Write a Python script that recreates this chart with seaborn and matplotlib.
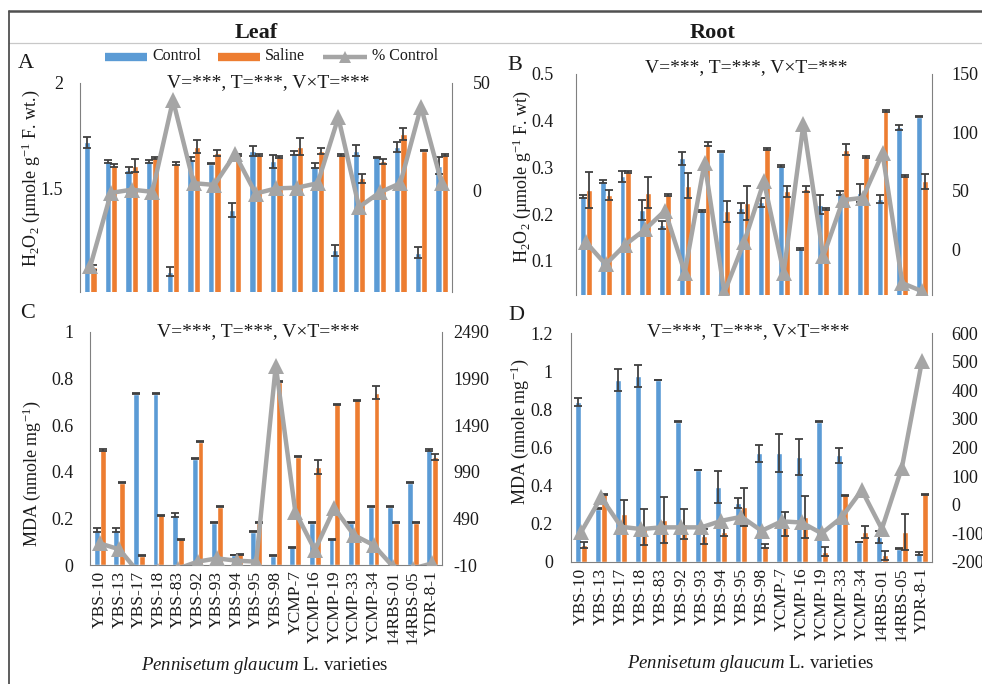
import numpy as np
import pandas as pd
import matplotlib
matplotlib.use("Agg")
import matplotlib.pyplot as plt
import seaborn as sns
from matplotlib.lines import Line2D
from matplotlib.ticker import FuncFormatter

# ---------------------------------------------------------------- data
varieties = ["YBS-10", "YBS-13", "YBS-17", "YBS-18", "YBS-83", "YBS-92", "YBS-93",
             "YBS-94", "YBS-95", "YBS-98", "YCMP-7", "YCMP-16", "YCMP-19", "YCMP-33",
             "YCMP-34", "14RBS-01", "14RBS-05", "YDR-8-1"]
treatments = ["Control", "Saline"]

# Leaf H2O2 (umole g-1 F. wt.)
leaf_h2o2_control = [1.72, 1.63, 1.59, 1.63, 1.11, 1.64, 1.62, 1.40, 1.68, 1.63,
                     1.67, 1.61, 1.21, 1.68, 1.65, 1.70, 1.20, 1.61]
leaf_h2o2_saline = [1.13, 1.61, 1.61, 1.645, 1.62, 1.70, 1.67, 1.66, 1.66, 1.65,
                    1.70, 1.68, 1.66, 1.55, 1.63, 1.76, 1.68, 1.66]
leaf_h2o2_control_err = [0.027, 0.006, 0.016, 0.006, 0.021, 0.010, 0.004, 0.034, 0.025,
                         0.030, 0.010, 0.013, 0.024, 0.026, 0.003, 0.024, 0.024, 0.040]
leaf_h2o2_saline_err = [0.010, 0.008, 0.030, 0.005, 0.005, 0.030, 0.015, 0.005, 0.005,
                        0.005, 0.040, 0.015, 0.003, 0.020, 0.012, 0.028, 0.003, 0.005]
leaf_h2o2_pct = [-35, -1, 0.5, -0.5, 42, 3.5, 2.7, 17, -1.3, 1.1,
                 1.4, 3.5, 34, -7.6, -0.8, 3.5, 39, 3.5]

# Root H2O2 (umole g-1 F. wt)
root_h2o2_control = [0.238, 0.270, 0.281, 0.209, 0.177, 0.320, 0.206, 0.334, 0.213,
                     0.225, 0.304, 0.126, 0.220, 0.245, 0.245, 0.232, 0.386, 0.409]
root_h2o2_saline = [0.252, 0.241, 0.290, 0.246, 0.241, 0.261, 0.350, 0.206, 0.224,
                    0.340, 0.249, 0.254, 0.211, 0.338, 0.322, 0.420, 0.282, 0.270]
root_h2o2_control_err = [0.003, 0.004, 0.012, 0.021, 0.009, 0.014, 0.002, 0.002, 0.011,
                         0.009, 0.002, 0.002, 0.020, 0.005, 0.020, 0.008, 0.005, 0.002]
root_h2o2_saline_err = [0.039, 0.010, 0.002, 0.033, 0.002, 0.027, 0.005, 0.023, 0.036,
                        0.002, 0.012, 0.007, 0.002, 0.012, 0.002, 0.002, 0.002, 0.017]
root_h2o2_pct = [6, -13, 4, 17, 33, -20, 74, -37, 6, 58,
                 -20, 107, -6, 42, 44, 82, -29, -36]

# Leaf MDA (nmole mg-1)
leaf_mda_control = [0.150, 0.150, 0.736, 0.736, 0.214, 0.457, 0.181, 0.043, 0.143,
                    0.039, 0.076, 0.181, 0.110, 0.181, 0.250, 0.250, 0.353, 0.493]
leaf_mda_saline = [0.493, 0.353, 0.039, 0.214, 0.110, 0.529, 0.250, 0.047, 0.181,
                   0.786, 0.464, 0.420, 0.690, 0.707, 0.739, 0.181, 0.181, 0.464]
leaf_mda_control_err = [0.009, 0.009, 0.002, 0.002, 0.010, 0.003, 0.002, 0.002, 0.002,
                        0.002, 0.002, 0.002, 0.002, 0.002, 0.002, 0.002, 0.002, 0.004]
leaf_mda_saline_err = [0.003, 0.002, 0.002, 0.002, 0.002, 0.003, 0.002, 0.002, 0.002,
                       0.002, 0.002, 0.030, 0.002, 0.002, 0.028, 0.002, 0.002, 0.012]
leaf_mda_pct = [222, 158, -95, -71, -49, 26, 61, 36, 26, 2130,
                560, 150, 600, 310, 204, -28, -49, 8]

# Root MDA (nmole mg-1)
root_mda_control = [0.840, 0.280, 0.954, 0.975, 0.954, 0.736, 0.482, 0.394, 0.310,
                    0.569, 0.569, 0.552, 0.736, 0.560, 0.105, 0.131, 0.070, 0.047]
root_mda_saline = [0.088, 0.354, 0.254, 0.184, 0.219, 0.200, 0.135, 0.158, 0.289,
                   0.082, 0.198, 0.236, 0.053, 0.350, 0.158, 0.035, 0.158, 0.354]
root_mda_control_err = [0.020, 0.002, 0.056, 0.058, 0.002, 0.002, 0.002, 0.083, 0.026,
                        0.044, 0.100, 0.094, 0.002, 0.040, 0.002, 0.030, 0.002, 0.008]
root_mda_saline_err = [0.015, 0.002, 0.072, 0.096, 0.120, 0.080, 0.040, 0.020, 0.100,
                       0.011, 0.064, 0.110, 0.024, 0.002, 0.032, 0.024, 0.096, 0.002]
root_mda_pct = [-96, 26, -77, -85, -79, -79, -79, -56, -42, -91,
                -58, -62, -100, -44, 51, -85, 130, 502]

legend_labels = ["Control", "Saline", "% Control"]

# ---------------------------------------------------------------- style
sns.set_style("white")
plt.rcParams["font.family"] = ["Liberation Serif", "DejaVu Serif"]
plt.rcParams["mathtext.fontset"] = "custom"
plt.rcParams["mathtext.rm"] = "Liberation Serif"
plt.rcParams["mathtext.it"] = "Liberation Serif:italic"
plt.rcParams["mathtext.default"] = "regular"
plt.rcParams["axes.unicode_minus"] = False

BLUE = "#5B9BD5"
ORANGE = "#ED7D31"
GREY = "#A5A5A5"
ERR = "#404040"
SPINE = "#808080"
TXT = "#1a1a1a"

W, H = 982, 684
fig = plt.figure(figsize=(W / 100, H / 100), dpi=100)


def fbox(x0, y0, x1, y1):
    """Pixel box (left, top, right, bottom) -> figure fraction rect."""
    return [x0 / W, 1 - y1 / H, (x1 - x0) / W, (y1 - y0) / H]


def fx(x):
    return x / W


def fy(y):
    return 1 - y / H


fmt = FuncFormatter(lambda v, p: f"{v:g}")


def draw_panel(rect, control, saline, control_err, saline_err, pct,
               left_lim, left_ticks, right_lim, right_ticks,
               show_x, left_pad, right_pad):
    ax = fig.add_axes(rect)
    df = pd.DataFrame({
        "variety": varieties * 2,
        "treatment": ["Control"] * len(varieties) + ["Saline"] * len(varieties),
        "value": list(control) + list(saline),
    })
    sns.barplot(data=df, x="variety", y="value", hue="treatment", order=varieties,
                hue_order=treatments, palette=[BLUE, ORANGE], width=0.6,
                errorbar=None, saturation=1, legend=False, ax=ax, zorder=2)
    xs = np.arange(len(varieties))
    for off, vals, err in ((-0.15, control, control_err), (0.15, saline, saline_err)):
        ax.errorbar(xs + off, vals, yerr=err, fmt="none", ecolor=ERR,
                    elinewidth=1.3, capsize=3.2, capthick=1.3, zorder=3)
    ax.set_xlim(-0.5, len(varieties) - 0.5)
    ax.set_yticks(left_ticks)
    ax.set_ylim(*left_lim)
    ax.yaxis.set_major_formatter(fmt)
    ax.set_xlabel("")
    ax.set_ylabel("")
    ax.tick_params(axis="y", length=0, pad=left_pad, labelsize=13, labelcolor=TXT)
    ax.tick_params(axis="x", length=0, pad=4, labelsize=12.5, labelrotation=90,
                   labelcolor=TXT, labelbottom=show_x)
    for side in ("top", "right"):
        ax.spines[side].set_visible(False)
    ax.spines["left"].set_color(SPINE)
    ax.spines["bottom"].set_color(SPINE)
    ax.spines["bottom"].set_visible(show_x)

    ax2 = ax.twinx()
    sns.lineplot(x=xs, y=pct, ax=ax2, color=GREY, linewidth=3.2, marker="^",
                 markersize=11, markeredgecolor=GREY, markeredgewidth=0, zorder=4)
    ax2.set_xlim(-0.5, len(varieties) - 0.5)
    ax2.set_yticks(right_ticks)
    ax2.set_ylim(*right_lim)
    ax2.yaxis.set_major_formatter(fmt)
    ax2.set_ylabel("")
    ax2.set_xlabel("")
    ax2.tick_params(axis="y", length=0, pad=right_pad, labelsize=13, labelcolor=TXT)
    for side in ("top", "left", "bottom"):
        ax2.spines[side].set_visible(False)
    ax2.spines["right"].set_color(SPINE)
    return ax, ax2


# A: leaf H2O2
draw_panel(fbox(80, 83, 452, 292), leaf_h2o2_control, leaf_h2o2_saline,
           leaf_h2o2_control_err, leaf_h2o2_saline_err, leaf_h2o2_pct,
           (1.014, 2.0), [1.5, 2.0], (-47, 50), [0, 50],
           False, 12, 15)
# B: root H2O2
draw_panel(fbox(576, 74, 932, 295), root_h2o2_control, root_h2o2_saline,
           root_h2o2_control_err, root_h2o2_saline_err, root_h2o2_pct,
           (0.027, 0.5), [0.1, 0.2, 0.3, 0.4, 0.5], (-39.2, 150), [0, 50, 100, 150],
           False, 16, 14)
# C: leaf MDA
draw_panel(fbox(90, 332, 442, 565), leaf_mda_control, leaf_mda_saline,
           leaf_mda_control_err, leaf_mda_saline_err, leaf_mda_pct,
           (0, 1.0), [0, 0.2, 0.4, 0.6, 0.8, 1.0], (-10, 2490),
           [-10, 490, 990, 1490, 1990, 2490], True, 12, 8)
# D: root MDA
draw_panel(fbox(571, 333, 932, 562), root_mda_control, root_mda_saline,
           root_mda_control_err, root_mda_saline_err, root_mda_pct,
           (0, 1.2), [0, 0.2, 0.4, 0.6, 0.8, 1.0, 1.2], (-200, 600),
           list(range(-200, 601, 100)), True, 13, 14)


def ftext(x, y, s, **kw):
    fig.text(fx(x), fy(y), s, **kw)


# panel headings and frame lines
ftext(256, 33, "Leaf", ha="center", va="center", fontsize=16, fontweight="bold", color=TXT)
ftext(713, 33, "Root", ha="center", va="center", fontsize=16, fontweight="bold", color=TXT)
fig.add_artist(Line2D([fx(8.5), 1], [fy(11)] * 2, transform=fig.transFigure,
                      color="#505050", lw=1.8))
fig.add_artist(Line2D([fx(8.5), 1], [fy(43)] * 2, transform=fig.transFigure,
                      color="#c8c8c8", lw=0.9))
fig.add_artist(Line2D([fx(8.5)] * 2, [0, fy(11)], transform=fig.transFigure,
                      color="#505050", lw=1.3))

# panel letters
for letter, (x, y) in zip("ABCD", [(26, 63), (515, 66), (28, 314), (516, 316)]):
    ftext(x, y, letter, ha="center", va="center", fontsize=16, color=TXT)

# ANOVA significance notes
stat = "V=***, T=***, V×T=***"
for x, y in [(268, 83), (746, 68), (258, 332), (748, 332)]:
    ftext(x, y, stat, ha="center", va="center", fontsize=14, color=TXT)

# y-axis titles
h2o2_a = r"H$_2$O$_2$ (µmole g$^{-1}$ F. wt.)"
h2o2_b = r"H$_2$O$_2$ (µmole g$^{-1}$ F. wt)"
mda = r"MDA (nmole mg$^{-1}$)"
ftext(31, 178, h2o2_a, rotation=90, ha="center", va="center", fontsize=13, color=TXT)
ftext(522, 177, h2o2_b, rotation=90, ha="center", va="center", fontsize=13, color=TXT)
ftext(32, 474, mda, rotation=90, ha="center", va="center", fontsize=13, color=TXT)
ftext(520, 432, mda, rotation=90, ha="center", va="center", fontsize=13, color=TXT)

# x-axis titles
xlab = r"$\it{Pennisetum\ glaucum}$ L. varieties"
ftext(265, 665, xlab, ha="center", va="center", fontsize=13.5, color=TXT)
ftext(751, 663, xlab, ha="center", va="center", fontsize=13.5, color=TXT)

# legend (series keys laid out along the top of panel A)
legend_y = 57
keys = [
    dict(x0=105, x1=147, color=BLUE, lw=6, marker=None),
    dict(x0=218, x1=260, color=ORANGE, lw=6, marker=None),
    dict(x0=323, x1=367, color=GREY, lw=3.2, marker="^"),
]
for key, label in zip(keys, legend_labels):
    fig.add_artist(Line2D([fx(key["x0"]), fx(key["x1"])], [fy(legend_y)] * 2,
                          transform=fig.transFigure, color=key["color"],
                          lw=key["lw"], solid_capstyle="butt"))
    if key["marker"]:
        fig.add_artist(Line2D([fx((key["x0"] + key["x1"]) / 2)], [fy(legend_y)],
                              transform=fig.transFigure, color=key["color"],
                              marker="^", markersize=9, markeredgewidth=0, lw=0))
    ftext(key["x1"] + 5, legend_y - 1, label, ha="left", va="center",
          fontsize=11.5, color=TXT)

fig.savefig("out.png", dpi=100)
